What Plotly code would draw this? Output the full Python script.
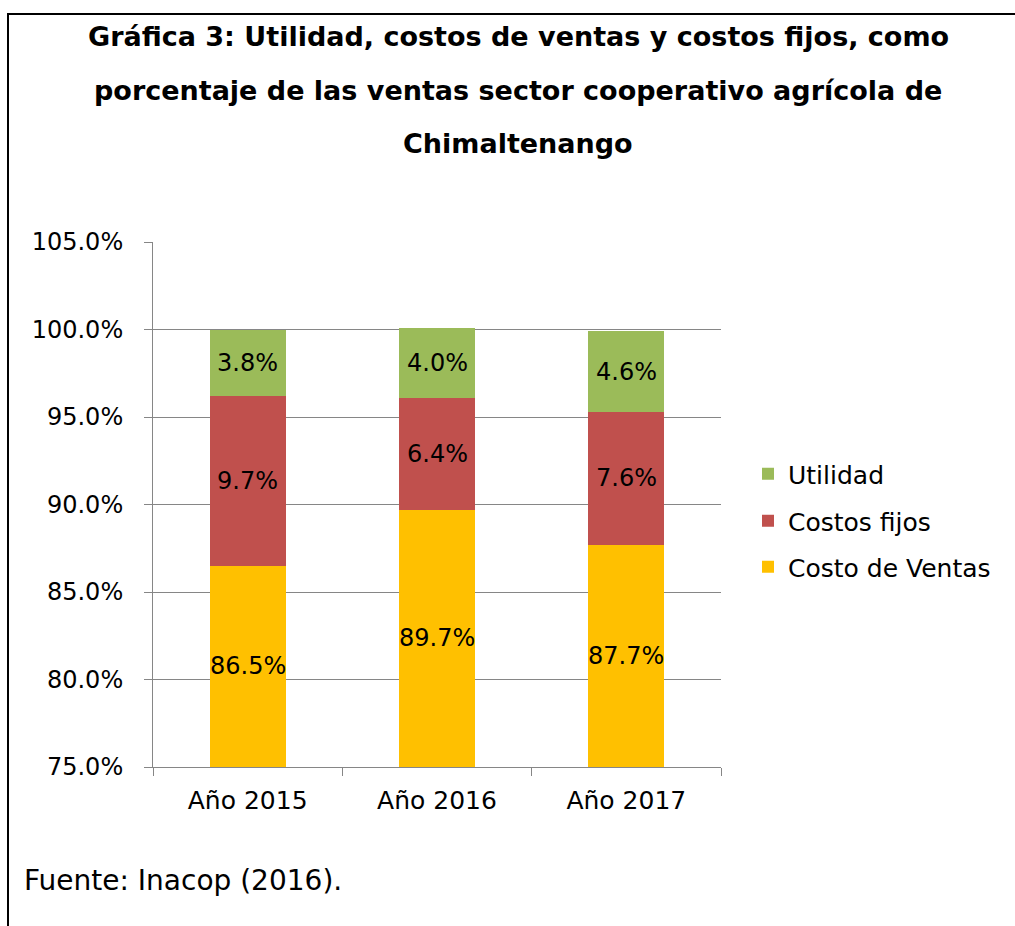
import plotly.graph_objects as go

categories = ["Año 2015", "Año 2016", "Año 2017"]
costo_ventas = [86.5, 89.7, 87.7]
costos_fijos = [9.7, 6.4, 7.6]
utilidad = [3.8, 4.0, 4.6]

series = [
    ("Costo de Ventas", costo_ventas, "#FFC000", "legend3", 567),
    ("Costos fijos", costos_fijos, "#C0504D", "legend2", 521),
    ("Utilidad", utilidad, "#9BBB59", "legend", 474),
]

FONT = "'DejaVu Sans', sans-serif"
W, H = 1015, 926
L, R, T, B = 153, 721, 242, 767  # plot area in pixels
YMIN, YMAX = 75, 105

fig = go.Figure()
for name, vals, col, leg, ly in series:
    fig.add_trace(go.Bar(
        x=categories, y=vals, name=name, marker_color=col,
        marker_line_width=0, width=0.4, textposition="none",
        legend=leg,
    ))

def px(x):
    return (x - L) / (R - L)

def py(y):
    return (B - y) / (B - T)

shapes = [
    dict(type="line", xref="paper", yref="paper", x0=px(7), x1=px(1015), y0=py(14), y1=py(14),
         line=dict(color="#000000", width=2)),
    dict(type="line", xref="paper", yref="paper", x0=px(8), x1=px(8), y0=py(14), y1=py(926),
         line=dict(color="#000000", width=2)),
]

annotations = []
# data labels centred in the visible part of each segment
base = [0.0] * len(categories)
for name, vals, col, leg, ly in series:
    for i, (c, v) in enumerate(zip(categories, vals)):
        lo = max(base[i], YMIN)
        hi = min(base[i] + v, YMAX)
        annotations.append(dict(text=f"{v:.1f}%", x=c, y=(lo + hi) / 2, xref="x", yref="y",
                                showarrow=False, xanchor="center", yanchor="middle",
                                font=dict(family=FONT, size=24, color="#000000")))
        base[i] += v

title_lines = [
    "Gráfica 3: Utilidad, costos de ventas y costos fijos, como",
    "porcentaje de las ventas sector cooperativo agrícola de",
    "Chimaltenango",
]
title_y = [36, 90, 144]
for t, yy in zip(title_lines, title_y):
    annotations.append(dict(text=f"<b>{t}</b>", xref="paper", yref="paper", x=px(518), y=py(yy),
                            xanchor="center", yanchor="middle", showarrow=False,
                            font=dict(family=FONT, size=27, color="#000000")))
annotations.append(dict(text="Fuente: Inacop (2016).", xref="paper", yref="paper", x=px(22), y=py(880),
                        xanchor="left", yanchor="middle", showarrow=False,
                        font=dict(family=FONT, size=28, color="#000000")))

legends = {}
for name, vals, col, leg, ly in series:
    legends[leg] = dict(x=px(748), y=py(ly), xanchor="left", yanchor="middle",
                        font=dict(family=FONT, size=25, color="#000000"),
                        bgcolor="rgba(0,0,0,0)", borderwidth=0)

fig.update_layout(
    width=W, height=H,
    margin=dict(l=L, r=W - R, t=T, b=H - B, pad=0),
    paper_bgcolor="white", plot_bgcolor="white",
    barmode="stack",
    font=dict(family=FONT, size=24, color="#000000"),
    showlegend=True,
    shapes=shapes,
    annotations=annotations,
    xaxis=dict(showline=True, linecolor="#868686", linewidth=1,
               ticks="outside", tickson="boundaries", ticklen=8, tickcolor="#868686",
               ticklabelstandoff=11,
               showgrid=False, tickfont=dict(family=FONT, size=25, color="#000000")),
    yaxis=dict(range=[YMIN, YMAX], dtick=5, tick0=75, tickformat=".1f", ticksuffix="%",
               showline=True, linecolor="#868686", linewidth=1,
               ticks="outside", ticklen=8, tickcolor="#868686",
               ticklabelstandoff=16,
               showgrid=True, gridcolor="#868686", gridwidth=1, zeroline=False,
               tickfont=dict(family=FONT, size=24, color="#000000")),
    **legends,
)

fig.write_html("out.html", config={"displayModeBar": False},
               post_script="document.body.style.margin='0px';document.body.style.overflow='hidden';")
